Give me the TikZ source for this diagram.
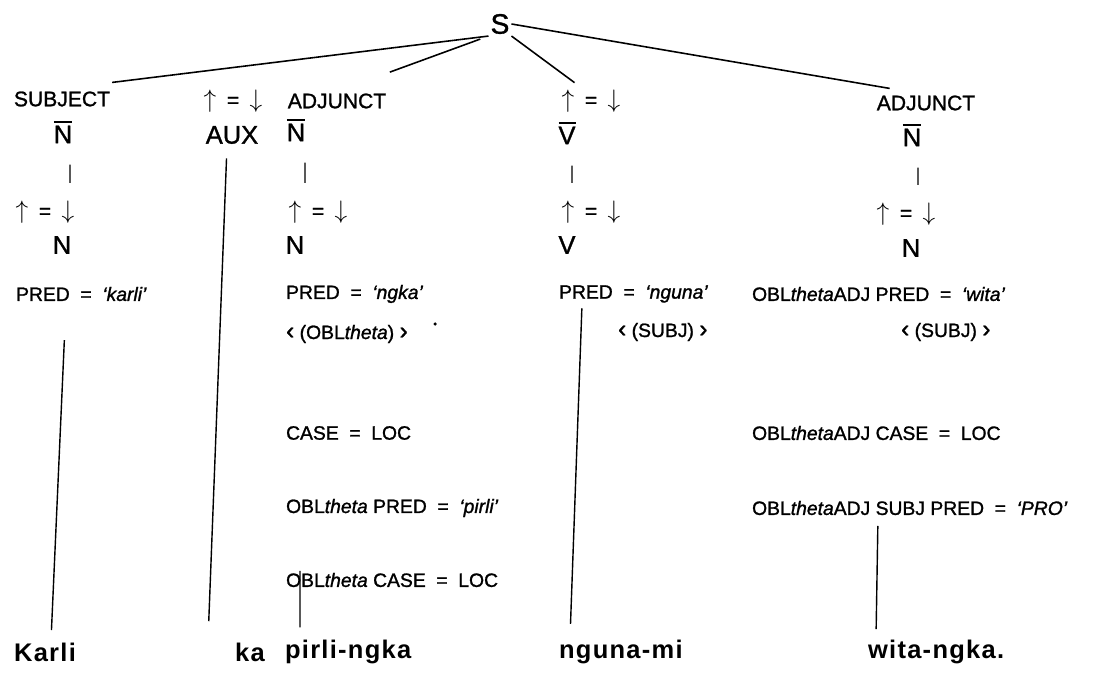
\documentclass[tikz,border=0pt]{standalone}
\usepackage{fontspec}
\setmainfont[FakeBold=1.2]{Liberation Sans}
\newfontfamily\wordfont[LetterSpace=5]{Liberation Sans}
\newcommand{\arr}[1]{{\fontsize{15}{15}\selectfont$#1$}}
\newcommand{\ueqd}{\arr{\uparrow}\hspace{6pt}=\hspace{6pt}\arr{\downarrow}}
\newcommand{\feq}{\hspace{0.55em}=\hspace{0.55em}}
\newcommand{\barcat}[1]{\vbox{\hrule height 1.2pt\kern1.6pt\hbox{#1}}}
\newcommand{\lang}{{\fontsize{14}{14}\selectfont ‹}}
\newcommand{\rang}{{\fontsize{14}{14}\selectfont ›}}
\tikzset{
  lbl/.style={font=\fontsize{12}{14}\selectfont, inner sep=1pt},
  cat/.style={font=\fontsize{14.5}{17}\selectfont, inner sep=1pt},
  feat/.style={font=\fontsize{11}{13}\selectfont, inner sep=1pt, anchor=west},
  word/.style={font=\wordfont\bfseries\fontsize{14.5}{17}\selectfont, inner sep=1pt},
  branch/.style={line width=0.9pt},
  tick/.style={line width=0.8pt, shorten <=11pt, shorten >=9pt},
  stem/.style={line width=0.8pt}
}
\begin{document}
\begin{tikzpicture}[x=0.02cm, y=-0.02cm]
	\useasboundingbox (0,0) rectangle (1118,675);
	\node[cat, font=\fontsize{16}{18}\selectfont] (S) at (500,24) {S};
	% subject
	\node[lbl] (subj) at (62,99) {SUBJECT};
	\node[cat] (nbS) at (63,132) {\barcat{N}};
	\node[lbl] (eqS) at (45,212) {\ueqd};
	\node[cat] (nS) at (62,245) {N};
	\node[feat] (predS) at (14,294) {PRED\feq\textit{`karli'}};
	\node[word] (wKarli) at (45,652) {Karli};
	% aux
	\node[lbl] (eqA) at (233,101) {\ueqd};
	\node[cat] (aux) at (232,135) {AUX};
	\node[word] (wKa) at (250,652) {ka};
	% locative adjunct
	\node[lbl] (adjL) at (337,101) {ADJUNCT};
	\node[cat] (nbL) at (296,130) {\barcat{N}};
	\node[lbl] (eqL) at (318,212) {\ueqd};
	\node[cat] (nL) at (295,245) {N};
	\node[feat] (fL1) at (284,294) {PRED\feq\textit{`ngka'}};
	\node[feat] (fL2) at (284,334) {\lang\ (OBL\textit{theta}) \rang};
	\node[feat] (fL3) at (284,433) {CASE\feq LOC};
	\node[feat] (fL4) at (284,508) {OBL\textit{theta} PRED\feq\textit{`pirli'}};
	\node[feat] (fL5) at (284,580) {OBL\textit{theta} CASE\feq LOC};
	\node[word, anchor=west] (wPirli) at (283,652) {pirli-ngka};
	\fill (435,324) circle (1pt);
	% verb
	\node[lbl] (eqV) at (591,101) {\ueqd};
	\node[cat] (nbV) at (567,133) {\barcat{V}};
	\node[lbl] (eqV2) at (591,212) {\ueqd};
	\node[cat] (nV) at (567,245) {V};
	\node[feat] (fV1) at (557,294) {PRED\feq\textit{`nguna'}};
	\node[feat] (fV2) at (616,332) {\lang\ (SUBJ) \rang};
	\node[word, anchor=west] (wNguna) at (557,652) {nguna-mi};
	% adjunct
	\node[lbl] (adjR) at (926,103) {ADJUNCT};
	\node[cat] (nbR) at (912,135) {\barcat{N}};
	\node[lbl] (eqR) at (906,214) {\ueqd};
	\node[cat] (nR) at (911,248) {N};
	\node[feat] (fR1) at (750,294) {OBL\textit{theta}ADJ PRED\feq\textit{`wita'}};
	\node[feat] (fR2) at (899,332) {\lang\ (SUBJ) \rang};
	\node[feat] (fR3) at (750,433) {OBL\textit{theta}ADJ CASE\feq LOC};
	\node[feat] (fR4) at (750,508) {OBL\textit{theta}ADJ SUBJ PRED\feq\textit{`PRO'}};
	\node[word, anchor=west] (wWita) at (866,652) {wita-ngka.};
	% branches from S
	\draw[branch] (S.south west) -- ([yshift=0.14cm]subj.north east);
	\draw[branch, shorten <=5pt, shorten >=32pt] (S.south west) -- (adjL.north);
	\draw[branch] (S.south east) -- ([xshift=0.3cm, yshift=0.1cm]eqV.north west);
	\draw[branch] (S.east) -- ([xshift=0.3cm, yshift=0.1cm]adjR.north west);
	% short ticks
	\draw[tick] ([xshift=0.14cm]nbS.south) -- ([xshift=0.5cm]eqS.north);
	\draw[tick] ([xshift=0.18cm]nbL.south) -- ([xshift=-0.26cm]eqL.north);
	\draw[tick] ([xshift=0.1cm]nbV.south) -- ([xshift=-0.38cm]eqV2.north);
	\draw[tick] ([xshift=0.12cm]nbR.south) -- ([xshift=0.24cm]eqR.north);
	% stems down to the words
	\draw[stem, shorten <=21pt, shorten >=6pt] ([xshift=1.04cm]predS.south west) -- ([xshift=0.12cm]wKarli.north);
	\draw[stem, shorten <=7pt, shorten >=11pt] ([xshift=-0.1cm]aux.south) -- ([xshift=-0.84cm]wKa.north);
	\draw[stem, shorten >=6pt] ([xshift=0.32cm]fL5.north west) -- ([xshift=0.34cm]wPirli.north west);
	\draw[stem, shorten <=2pt, shorten >=8pt] ([xshift=0.5cm]fV1.south west) -- ([xshift=0.26cm]wNguna.north west);
	\draw[stem, shorten <=5pt, shorten >=5pt] ([xshift=2.56cm]fR4.south west) -- ([xshift=0.2cm]wWita.north west);
\end{tikzpicture}
\end{document}
